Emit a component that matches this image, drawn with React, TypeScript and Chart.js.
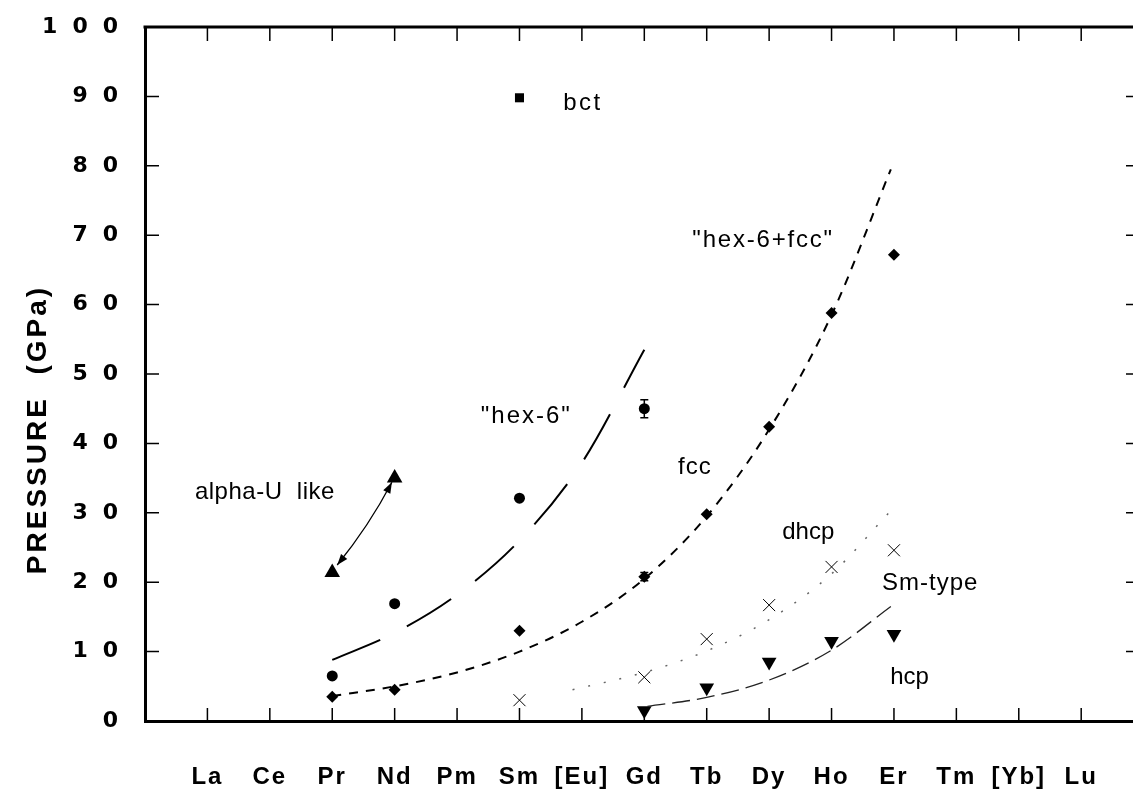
import React, { useEffect, useRef } from "react";
import { Chart, registerables } from "chart.js";

Chart.register(...registerables);

// ---------- axis data ----------
const elements = ["La", "Ce", "Pr", "Nd", "Pm", "Sm", "[Eu]", "Gd", "Tb", "Dy", "Ho", "Er", "Tm", "[Yb]", "Lu"];
const elementPositions = elements.map((_, i) => i + 1);
const yTickValues = [0, 10, 20, 30, 40, 50, 60, 70, 80, 90, 100];
const yTickLabels = ["0", "1\u20020", "2\u20020", "3\u20020", "4\u20020", "5\u20020", "6\u20020", "7\u20020", "8\u20020", "9\u20020", "1\u20020\u20020"];
const yTitle = "PRESSURE  (GPa)";

// ---------- measured transitions (GPa) ----------
const bctEl = ["Sm"];
const bctP = [89.8];

const hex6El = ["Pr", "Nd", "Sm", "Gd"];
const hex6P = [6.5, 16.9, 32.1, 45.0];
const hex6Err = [0, 0, 0, 1.3];

const fccEl = ["Pr", "Nd", "Sm", "Gd", "Tb", "Dy", "Ho", "Er"];
const fccP = [3.5, 4.5, 13.0, 20.8, 29.8, 42.4, 58.8, 67.2];
const fccErr = [0, 0, 0, 0.6, 0, 0, 0, 0];

const dhcpEl = ["Sm", "Gd", "Tb", "Dy", "Ho", "Er"];
const dhcpP = [3.0, 6.3, 11.8, 16.7, 22.2, 24.6];

const hcpEl = ["Gd", "Tb", "Dy", "Ho", "Er"];
const hcpP = [1.5, 4.8, 8.5, 11.5, 12.5];

const alphaUEl = ["Pr", "Nd"];
const alphaUP = [21.4, 35.0];

// ---------- guide curves (position along the series, GPa) ----------
const hex6CurveX = [3, 4, 5, 6, 7, 8];
const hex6CurveP = [8.8, 12.7, 18.2, 26.0, 37.2, 53.5];

const fccCurveX = [3, 4, 5, 6, 7, 8, 9, 10, 11, 11.95];
const fccCurveP = [3.6, 5.0, 7.0, 10.0, 14.3, 20.5, 29.5, 42.0, 58.5, 79.5];

const dhcpCurveX = [6.85, 8, 9, 10, 11, 11.95];
const dhcpCurveP = [4.5, 7.0, 10.1, 14.6, 21.2, 30.3];

const hcpCurveX = [8.05, 9, 10, 11, 11.95];
const hcpCurveP = [2.1, 3.4, 5.9, 10.2, 16.5];

// ---------- text annotations (data coordinates) ----------
const annotationTexts = ["bct", "\"hex-6\"", "\"hex-6+fcc\"", "fcc", "dhcp", "Sm-type", "hcp", "alpha-U  like"];
const annotationX = [6.7, 5.38, 8.77, 8.54, 10.21, 11.81, 11.94, 0.8];
const annotationP = [89.0, 43.9, 69.3, 36.5, 27.2, 19.8, 6.3, 32.9];
const annotationSpacing = [2.5, 2, 1.8, 1, 0, 1, 0, 0.5];

const FONT = '"Liberation Sans", Arial, Helvetica, sans-serif';
const HEAVY = '"DejaVu Sans", "Liberation Sans", Arial, sans-serif';

const pos = (el: string) => elements.indexOf(el) + 1;
const pts = (els: string[], ps: number[]) => els.map((e, i) => ({ x: pos(e), y: ps[i] }));
const curve = (xs: number[], ps: number[]) => xs.map((x, i) => ({ x, y: ps[i] }));

const zeroPad = (s: any) => {
  s.paddingTop = 0;
  s.paddingBottom = 0;
  s.paddingLeft = 0;
  s.paddingRight = 0;
};

const framePlugin = {
  id: "frame",
  beforeDraw(chart: any) {
    chart.ctx.letterSpacing = "2px";
  },
  afterDraw(chart: any) {
    const { ctx, chartArea: ca, scales } = chart;
    const xs = scales.x;
    const ys = scales.y;
    ctx.save();
    ctx.letterSpacing = "0px";
    ctx.strokeStyle = "#000";
    ctx.fillStyle = "#000";

    // top frame line
    ctx.lineWidth = 3;
    ctx.beginPath();
    ctx.moveTo(ca.left - 1.5, ca.top);
    ctx.lineTo(ca.right, ca.top);
    ctx.stroke();

    // inward ticks
    ctx.lineWidth = 1.5;
    ctx.beginPath();
    elementPositions.forEach((v) => {
      const px = xs.getPixelForValue(v);
      ctx.moveTo(px, ca.bottom);
      ctx.lineTo(px, ca.bottom - 13);
      ctx.moveTo(px, ca.top);
      ctx.lineTo(px, ca.top + 14);
    });
    yTickValues.forEach((v) => {
      if (v <= 0 || v >= 100) return;
      const py = ys.getPixelForValue(v);
      ctx.moveTo(ca.left, py);
      ctx.lineTo(ca.left + 14, py);
      ctx.moveTo(ca.right, py);
      ctx.lineTo(ca.right - 7, py);
    });
    ctx.stroke();

    // error bars
    const drawErr = (els: string[], ps: number[], errs: number[]) => {
      els.forEach((e, i) => {
        if (!errs[i]) return;
        const px = xs.getPixelForValue(pos(e));
        const y1 = ys.getPixelForValue(ps[i] + errs[i]);
        const y2 = ys.getPixelForValue(ps[i] - errs[i]);
        ctx.lineWidth = 1.5;
        ctx.beginPath();
        ctx.moveTo(px, y1);
        ctx.lineTo(px, y2);
        ctx.moveTo(px - 4, y1);
        ctx.lineTo(px + 4, y1);
        ctx.moveTo(px - 4, y2);
        ctx.lineTo(px + 4, y2);
        ctx.stroke();
      });
    };
    drawErr(hex6El, hex6P, hex6Err);
    drawErr(fccEl, fccP, fccErr);

    // alpha-U double arrow
    const ax = xs.getPixelForValue(pos(alphaUEl[0]));
    const ay = ys.getPixelForValue(alphaUP[0]);
    const bx = xs.getPixelForValue(pos(alphaUEl[1]));
    const by = ys.getPixelForValue(alphaUP[1]);
    const dx = bx - ax, dy = by - ay;
    const len = Math.hypot(dx, dy);
    const ux = dx / len, uy = dy / len;
    const sx = ax + ux * 9, sy = ay + uy * 9;
    const ex = bx - ux * 5, ey = by - uy * 5;
    const cx = (sx + ex) / 2 - uy * 5, cy = (sy + ey) / 2 + ux * 5;
    ctx.lineWidth = 1.3;
    ctx.beginPath();
    ctx.moveTo(sx, sy);
    ctx.quadraticCurveTo(cx, cy, ex, ey);
    ctx.stroke();
    const head = (tx: number, ty: number, fx: number, fy: number) => {
      const l = Math.hypot(tx - fx, ty - fy);
      const vx = (tx - fx) / l, vy = (ty - fy) / l;
      ctx.beginPath();
      ctx.moveTo(tx, ty);
      ctx.lineTo(tx - vx * 11 - vy * 4, ty - vy * 11 + vx * 4);
      ctx.lineTo(tx - vx * 11 + vy * 4, ty - vy * 11 - vx * 4);
      ctx.closePath();
      ctx.fill();
    };
    head(sx, sy, cx, cy);
    head(ex, ey, cx, cy);

    // annotations
    ctx.font = `24px ${FONT}`;
    ctx.textAlign = "left";
    ctx.textBaseline = "middle";
    annotationTexts.forEach((t, i) => {
      ctx.letterSpacing = `${annotationSpacing[i]}px`;
      ctx.fillText(t, xs.getPixelForValue(annotationX[i]), ys.getPixelForValue(annotationP[i]));
    });

    // y-axis title
    ctx.font = `bold 28px ${FONT}`;
    ctx.letterSpacing = "3px";
    ctx.textAlign = "center";
    ctx.translate(ys.left + 38, ca.top + (ca.bottom - ca.top) * 0.58);
    ctx.rotate(-Math.PI / 2);
    ctx.fillText(yTitle, 0, 0);
    ctx.restore();
  },
};

export default function App() {
  const ref = useRef<HTMLCanvasElement>(null);
  useEffect(() => {
    document.body.style.margin = "0";
    const lineBase = {
      showLine: true,
      pointRadius: 0,
      borderColor: "#000",
      backgroundColor: "#000",
      cubicInterpolationMode: "monotone" as const,
      fill: false,
    };
    const chart = new Chart(ref.current as HTMLCanvasElement, {
      type: "scatter",
      data: {
        datasets: [
          { ...lineBase, label: "hex-6 guide", data: curve(hex6CurveX, hex6CurveP), borderWidth: 2, borderDash: [52, 30] },
          { ...lineBase, label: "fcc guide", data: curve(fccCurveX, fccCurveP), borderWidth: 2, borderDash: [9, 8] },
          { ...lineBase, label: "dhcp guide", data: curve(dhcpCurveX, dhcpCurveP), borderWidth: 1.5, borderColor: "#666", borderDash: [2, 14] },
          { ...lineBase, label: "hcp guide", data: curve(hcpCurveX, hcpCurveP), borderWidth: 1.3, borderColor: "#222", borderDash: [18, 7] },
          { label: "bct", data: pts(bctEl, bctP), pointStyle: "rect", pointRadius: 6.4, backgroundColor: "#000", borderColor: "#000", borderWidth: 0 },
          { label: "hex-6", data: pts(hex6El, hex6P), pointStyle: "circle", pointRadius: 5.5, backgroundColor: "#000", borderColor: "#000", borderWidth: 0 },
          { label: "fcc", data: pts(fccEl, fccP), pointStyle: "rectRot", pointRadius: 6, backgroundColor: "#000", borderColor: "#000", borderWidth: 0 },
          { label: "dhcp", data: pts(dhcpEl, dhcpP), pointStyle: "crossRot", pointRadius: 8.5, backgroundColor: "#000", borderColor: "#000", borderWidth: 1 },
          { label: "hcp", data: pts(hcpEl, hcpP), pointStyle: "triangle", pointRotation: 180, pointRadius: 8.5, backgroundColor: "#000", borderColor: "#000", borderWidth: 0 },
          { label: "alpha-U like", data: pts(alphaUEl, alphaUP), pointStyle: "triangle", pointRadius: 9, backgroundColor: "#000", borderColor: "#000", borderWidth: 0 },
        ] as any,
      },
      options: {
        animation: false,
        responsive: false,
        devicePixelRatio: 1,
        layout: { autoPadding: false, padding: { top: 27, right: 0, left: 0, bottom: 0 } },
        plugins: { legend: { display: false }, tooltip: { enabled: false } },
        scales: {
          x: {
            type: "linear",
            min: 0,
            max: 15.83,
            afterBuildTicks: (s: any) => {
              s.ticks = elementPositions.map((v) => ({ value: v }));
            },
            afterFit: (s: any) => {
              s.height = 70;
              zeroPad(s);
            },
            ticks: {
              autoSkip: false,
              maxRotation: 0,
              padding: 34,
              color: "#000",
              font: { family: FONT, size: 24, weight: "bold" },
              callback: (_v: any, i: number) => elements[i],
            },
            grid: { display: false },
            border: { display: true, width: 3, color: "#000" },
          },
          y: {
            type: "linear",
            min: 0,
            max: 100,
            afterBuildTicks: (s: any) => {
              s.ticks = yTickValues.map((v) => ({ value: v }));
            },
            afterFit: (s: any) => {
              s.width = 145;
              zeroPad(s);
            },
            ticks: {
              padding: 17,
              color: "#000",
              font: { family: HEAVY, size: 22, weight: "bold" },
              callback: (_v: any, i: number) => yTickLabels[i],
            },
            grid: { display: false },
            border: { display: true, width: 3, color: "#000" },
          },
        },
      } as any,
      plugins: [framePlugin as any],
    });
    return () => chart.destroy();
  }, []);
  return (
    <div style={{ width: 1133, height: 791, background: "#fff" }}>
      <canvas ref={ref} width={1133} height={791} style={{ display: "block" }} />
    </div>
  );
}
